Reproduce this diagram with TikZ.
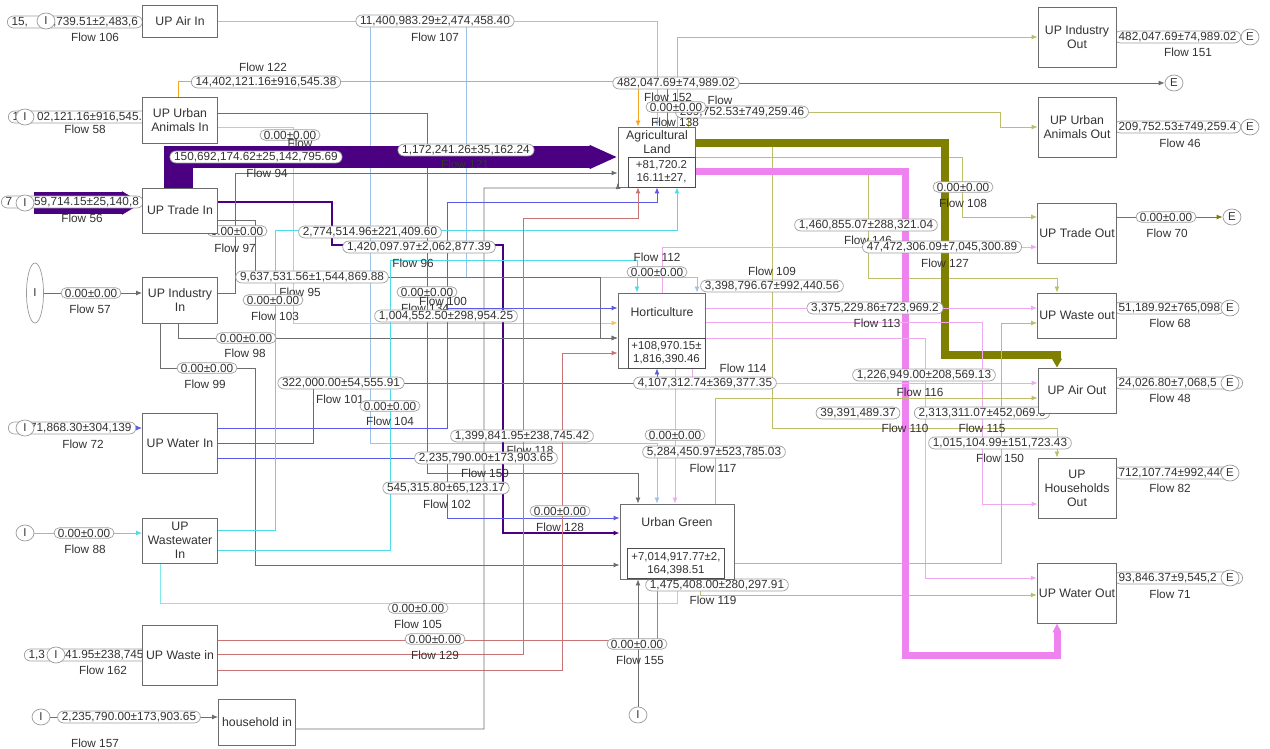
\documentclass[tikz,border=0pt]{standalone}
\usepackage{fontspec}
\setmainfont{Liberation Sans}
\usetikzlibrary{arrows.meta,shapes.geometric,shapes.misc}
\definecolor{airline}{HTML}{9DC3E6}
\definecolor{orangeline}{HTML}{F5A623}
\definecolor{grayline}{HTML}{6E6E6E}
\definecolor{tradeband}{HTML}{4B0082}
\definecolor{waterline}{HTML}{5B5BE8}
\definecolor{wwline}{HTML}{4EDCEB}
\definecolor{wasteline}{HTML}{C87474}
\definecolor{oliveband}{HTML}{7F7F00}
\definecolor{oliveline}{HTML}{BDBD6A}
\definecolor{pinkband}{HTML}{EE82EE}
\definecolor{pinkline}{HTML}{F0A8F0}
\definecolor{textgray}{HTML}{333333}
\pgfdeclarelayer{flows}
\pgfdeclarelayer{values}
\pgfsetlayers{flows,values,main}
\tikzset{
  every node/.style={text=textgray},
  sector/.style={draw=gray!85!black, fill=white, align=center, inner sep=1pt, line width=0.5pt, font=\fontsize{7}{8}\selectfont},
  stock/.style={draw=gray!60!black, fill=white, align=center, inner sep=0.5pt, line width=0.5pt, font=\fontsize{6.5}{7.5}\selectfont},
  flowval/.style={rounded rectangle, draw=gray!75, fill=white, inner xsep=1pt, inner ysep=0.6pt, line width=0.4pt, font=\fontsize{6.7}{7.5}\selectfont},
  flowname/.style={inner sep=0.5pt, font=\fontsize{6.7}{7.5}\selectfont},
  port/.style={ellipse, draw=gray!80, fill=white, minimum width=3.6mm, minimum height=3.2mm, inner sep=0pt, font=\fontsize{6.5}{7.5}\selectfont},
  flowline/.style={line width=0.5pt, ->},
}
\begin{document}
\begin{tikzpicture}[x=0.2mm,y=-0.2mm,>={Latex[length=1.2mm,width=1mm]}]
\useasboundingbox (0,0) rectangle (1270,749);
% input sectors
\node[sector, minimum width=15mm, minimum height=6.4mm] (airIn) at (180,21) {UP Air In};
\node[sector, minimum width=15mm, minimum height=9.2mm] (uaIn) at (180,120) {UP Urban\\Animals In};
\node[sector, minimum width=15mm, minimum height=9mm] (tradeIn) at (180,210.5) {UP Trade In};
\node[sector, minimum width=15mm, minimum height=9.2mm] (industryIn) at (180,300) {UP Industry\\In};
\node[sector, minimum width=15mm, minimum height=12mm] (waterIn) at (180,443) {UP Water In};
\node[sector, minimum width=15mm, minimum height=9mm] (wwIn) at (180,540.5) {UP\\Wastewater\\In};
\node[sector, minimum width=15mm, minimum height=12mm] (wasteIn) at (180,655) {UP Waste in};
\node[sector, minimum width=15.4mm, minimum height=9.2mm] (hhIn) at (257,722) {household in};
% processes
\node[sector, minimum width=15.4mm, minimum height=12mm] (agri) at (656.5,157) {};
\node[sector, draw=none, fill=none] (agriName) at (657,142) {Agricultural\\Land};
\node[stock, minimum width=13.4mm, minimum height=6mm, anchor=south east] (agriStock) at (agri.south east) {+81,720.2\\16.11±27,};
\node[sector, minimum width=17.4mm, minimum height=15mm] (horti) at (661.5,330.5) {};
\node[sector, draw=none, fill=none] (hortiName) at (662,312) {Horticulture};
\node[stock, minimum width=15.4mm, minimum height=6mm, anchor=south east] (hortiStock) at (horti.south east) {+108,970.15±\\1,816,390.46};
\node[sector, minimum width=22.8mm, minimum height=15mm] (ug) at (677,541.5) {};
\node[sector, draw=none, fill=none] (ugName) at (677,522) {Urban Green};
\node[stock, minimum width=19.4mm, minimum height=6mm, anchor=south west] (ugStock) at (627,579) {+7,014,917.77±2,\\164,398.51};
% output sectors
\node[sector, minimum width=15.6mm, minimum height=12mm] (industryOut) at (1077,37) {UP Industry\\Out};
\node[sector, minimum width=15.6mm, minimum height=12mm] (uaOut) at (1077,127) {UP Urban\\Animals Out};
\node[sector, minimum width=15.6mm, minimum height=12mm] (tradeOut) at (1077,233) {UP Trade Out};
\node[sector, minimum width=15.6mm, minimum height=9mm] (wasteOut) at (1077,315.5) {UP Waste out};
\node[sector, minimum width=15.6mm, minimum height=9mm] (airOut) at (1077,390.5) {UP Air Out};
\node[sector, minimum width=15.6mm, minimum height=12mm] (hhOut) at (1077,488) {UP\\Households\\Out};
\node[sector, minimum width=15.6mm, minimum height=12mm] (waterOut) at (1077,593) {UP Water Out};
% import and export
\node[port] (srcAir) at (46,21) {I};
\node[port] (srcUa) at (25,117) {I};
\node[port] (srcTrade) at (25,203) {I};
\node[port, minimum width=3.4mm, minimum height=12mm] (srcIndustry) at (35,293) {I};
\node[port] (srcWater) at (25,428) {I};
\node[port] (srcWw) at (25,533) {I};
\node[port] (srcWaste) at (56,655) {I};
\node[port] (srcHh) at (41,717) {I};
\node[port] (srcUg) at (638,715) {I};
\node[port] (sinkIndustry) at (1250,37) {E};
\node[port] (sinkAgri) at (1174,83) {E};
\node[port] (sinkUa) at (1250,127) {E};
\node[port] (sinkTrade) at (1232,217) {E};
\node[port] (sinkWaste) at (1230,308) {E};
\node[port] (sinkAir) at (1230,383) {E};
\node[port] (sinkHh) at (1230,473) {E};
\node[port] (sinkWater) at (1230,578) {E};

\begin{pgfonlayer}{flows}
\draw[flowline, grayline] (srcAir) -- (srcAir -| airIn.west);
\draw[flowline, grayline] (srcUa) -- (srcUa -| uaIn.west);
\draw[flowline, grayline] (srcIndustry) -- (srcIndustry -| industryIn.west);
\draw[flowline, waterline] (srcWater) -- (srcWater -| waterIn.west);
\draw[flowline, wwline] (srcWw) -- (srcWw -| wwIn.west);
\draw[flowline, wasteline] (srcWaste) -- (srcWaste -| wasteIn.west);
\draw[flowline, grayline] (srcHh) -- (srcHh -| hhIn.west);
\draw[tradeband, line width=4.4mm, -{Triangle[length=4mm,width=0pt 1]}] (srcTrade) -- (srcTrade -| tradeIn.west);
% air
\draw[flowline, airline] (airIn.east) -- (657,21) -- (agri.north -| 657,0);
\draw[flowline, airline] (airIn.east) -- (370,21) -- (370,443) -- (657,443) -- (ug.north -| 657,0);
\draw[flowline, airline] (airIn.east) -- (466,21) -- (466,277) -- (697,277) -- (horti.north -| 697,0);
% urban animals
\draw[flowline, orangeline] (uaIn.north -| 178,0) -- (178,81) -- (638,81) -- (agri.north -| 638,0);
\draw[flowline, orangeline!70] (uaIn.east |- 0,127) -- (293,127) -- (293,323) -- (horti.west |- 0,323);
\draw[flowline, grayline] (uaIn.east |- 0,113) -- (427,113) -- (427,473) -- (638,473) -- (ug.north -| 638,0);
% trade
\draw[tradeband, line width=5.8mm] (tradeIn.north -| 178.5,0) -- (178.5,146);
\draw[tradeband, line width=4.4mm, -{Triangle[length=5.6mm,width=0pt 1]}] (tradeIn.north -| 178.5,0) |- (agri.west |- 0,157);
\draw[flowline, tradeband, line width=0.9pt] (tradeIn.east |- 0,202) -- (332,202) -- (332,245) -- (503,245) -- (503,533) -- (ug.west |- 0,533);
\draw[flowline, grayline] (tradeIn.east |- 0,220) -- (255,220) -- (255,277) -- (600,277) -- (600,338) -- (horti.west |- 0,338);
% industry
\draw[flowline, grayline] (industryIn.east |- 0,293) -- (235,293) -- (235,173) -- (agri.west |- 0,173);
\draw[flowline, grayline] (industryIn.south -| 178,0) -- (178,338) -- (horti.west |- 0,338);
\draw[flowline, grayline] (industryIn.south -| 160,0) -- (160,368) -- (255,368) -- (255,565) -- (ug.west |- 0,565);
% water
\draw[flowline, waterline] (waterIn.east |- 0,428) -- (447,428) -- (447,202) -- (657,202) -- (agri.south -| 657,0);
\draw[flowline, waterline] (waterIn.east |- 0,428) -- (447,428) -- (447,308) -- (horti.west |- 0,308);
\draw[flowline, waterline] (waterIn.east |- 0,443) -- (313,443) -- (313,383) -- (657,383) -- (horti.south -| 657,0);
\draw[flowline, waterline] (waterIn.east |- 0,458) -- (447,458) -- (447,518) -- (ug.west |- 0,518);
% wastewater
\draw[flowline, wwline] (wwIn.east |- 0,530) -- (275,530) -- (275,230) -- (677,230) -- (agri.south -| 677,0);
\draw[flowline, wwline] (wwIn.east |- 0,550) -- (390,550) -- (390,260) -- (637,260) -- (horti.north -| 637,0);
\draw[flowline, wwline!70] (wwIn.south -| 160,0) -- (160,603) -- (677,603) -- (ug.south -| 677,0);
% waste
\draw[flowline, wasteline] (wasteIn.east |- 0,640) -- (657,640) -- (ug.south -| 657,0);
\draw[flowline, wasteline] (wasteIn.east |- 0,654) -- (523,654) -- (523,218) -- (638,218) -- (agri.south -| 638,0);
\draw[flowline, wasteline] (wasteIn.east |- 0,670) -- (562,670) -- (562,353) -- (horti.west |- 0,353);
% households
\draw[flowline, grayline] (hhIn.east |- 0,729) -- (484,729) -- (484,188) -- (618,188) -- (agri.west |- 0,183);
\draw[flowline, grayline] (srcUg) -- (ug.south -| 638,0);
% agricultural land out
\draw[flowline, oliveline] (agri.north -| 677,0) -- (677,37) -- (industryOut.west |- 0,37);
\draw[flowline, grayline] (agri.north -| 667,0) -- (667,83) -- (sinkAgri);
\draw[flowline, oliveline] (agri.north -| 688,0) -- (688,112) -- (1000,112) -- (1000,127) -- (uaOut.west |- 0,127);
\draw[flowline, oliveline] (agri.east |- 0,157) -- (962,157) -- (962,217) -- (tradeOut.west |- 0,217);
\draw[flowline, oliveline] (agri.east |- 0,172) -- (868,172) -- (868,278) -- (1057,278) -- (wasteOut.north -| 1057,0);
\draw[flowline, oliveline] (agri.east |- 0,143) -- (772,143) -- (772,428) -- (1057,428) -- (hhOut.north -| 1057,0);
\draw[oliveband, line width=1.6mm, -{Triangle[length=1.8mm,width=0pt 1.2]}] (agri.east |- 0,143) -- (945,143) -- (945,355) -- (1057,355) -- (airOut.north -| 1057,0);
\draw[pinkband, line width=1.4mm, -{Triangle[length=1.8mm,width=0pt 1.2]}] (agri.east |- 0,172) -- (905,172) -- (905,655) -- (1057,655) -- (waterOut.south -| 1057,0);
% horticulture out
\draw[flowline, pinkline] (horti.north -| 662,0) -- (662,247) -- (tradeOut.west |- 0,247);
\draw[flowline, pinkline] (horti.east |- 0,308) -- (wasteOut.west |- 0,308);
\draw[flowline, pinkline] (horti.east |- 0,322) -- (982,322) -- (982,504) -- (hhOut.west |- 0,504);
\draw[flowline, pinkline] (horti.east |- 0,338) -- (925,338) -- (925,578) -- (waterOut.west |- 0,578);
\draw[flowline, pinkline] (horti.south -| 692,0) -- (692,383) -- (airOut.west |- 0,383);
\draw[flowline, pinkline] (horti.south -| 675,0) -- (ug.north -| 675,0);
% urban green out
\draw[flowline, oliveline] (ug.east |- 0,563) -- (1001,563) -- (1001,323) -- (wasteOut.west |- 0,323);
\draw[flowline, oliveline] (ug.north -| 715,0) -- (715,398) -- (airOut.west |- 0,398);
\draw[flowline, oliveline] (ug.south -| 700,0) -- (700,595) -- (waterOut.west |- 0,595);
% exports
\draw[flowline, grayline] (industryOut.east |- sinkIndustry) -- (sinkIndustry);
\draw[flowline, grayline] (uaOut.east |- sinkUa) -- (sinkUa);
\draw[flowline, oliveband] (tradeOut.east |- sinkTrade) -- (sinkTrade);
\draw[flowline, grayline] (wasteOut.east |- sinkWaste) -- (sinkWaste);
\draw[flowline, grayline] (airOut.east |- sinkAir) -- (sinkAir);
\draw[flowline, grayline] (hhOut.east |- sinkHh) -- (sinkHh);
\draw[flowline, grayline] (waterOut.east |- sinkWater) -- (sinkWater);
\end{pgfonlayer}

\begin{pgfonlayer}{values}
\node[flowval, anchor=west] (v106) at (7,22) {15,\hspace{5mm},739.51±2,483,6};
\node[flowname] (n106) at (95,37) {Flow 106};
\node[flowval] (v107) at (435,21) {11,400,983.29±2,474,458.40};
\node[flowname] (n107) at (435,37) {Flow 107};
\node[flowname] (n122) at (263,67) {Flow 122};
\node[flowval] (v122) at (266,82) {14,402,121.16±916,545.38};
\node[flowval] (v152) at (676,83) {482,047.69±74,989.02};
\node[flowname] (n152) at (668,97) {Flow 152};
\node[flowname] (nFlowA) at (720,100) {Flow};
\node[flowval] (v139) at (742,112) {209,752.53±749,259.46};
\node[flowval] (v138) at (676,107) {0.00±0.00};
\node[flowname] (n138) at (675,122) {Flow 138};
\node[flowval, anchor=west] (v58) at (8,117) {1\hspace{3.6mm}02,121.16±916,545.38};
\node[flowname] (n58) at (85,129) {Flow 58};
\node[flowval] (vUa) at (290,135) {0.00±0.00};
\node[flowname] (nFlowB) at (300,143) {Flow};
\node[flowval] (v94) at (256,157) {150,692,174.62±25,142,795.69};
\node[flowname] (n94) at (267,173) {Flow 94};
\node[flowval] (v121) at (466,150) {1,172,241.26±35,162.24};
\node[flowname] (n121) at (465,164) {Flow 121};
\node[flowval, anchor=west] (v56) at (1,202) {7\hspace{4.4mm}59,714.15±25,140,8};
\node[flowname] (n56) at (82,218) {Flow 56};
\node[flowval] (v97) at (237,231) {0.00±0.00};
\node[flowname] (n97) at (235,248) {Flow 97};
\node[flowval] (v2774) at (370,232) {2,774,514.96±221,409.60};
\node[flowval] (v96) at (419,247) {1,420,097.97±2,062,877.39};
\node[flowname] (n96) at (413,263) {Flow 96};
\node[flowval] (v95) at (312,277) {9,637,531.56±1,544,869.88};
\node[flowname] (n95) at (300,292) {Flow 95};
\node[flowval] (v103) at (273,300) {0.00±0.00};
\node[flowname] (n103) at (275,316) {Flow 103};
\node[flowval] (v100) at (427,292) {0.00±0.00};
\node[flowname] (n100) at (443,301) {Flow 100};
\node[flowname] (n134) at (425,308) {Flow 134};
\node[flowval] (v1004) at (446,316) {1,004,552.50±298,954.25};
\node[flowval] (v57) at (91,293) {0.00±0.00};
\node[flowname] (n57) at (90,309) {Flow 57};
\node[flowval] (v98) at (246,338) {0.00±0.00};
\node[flowname] (n98) at (245,353) {Flow 98};
\node[flowval] (v99) at (207,368) {0.00±0.00};
\node[flowname] (n99) at (205,384) {Flow 99};
\node[flowval] (v101) at (341,383) {322,000.00±54,555.91};
\node[flowname] (n101) at (340,399) {Flow 101};
\node[flowval] (v104) at (390,406) {0.00±0.00};
\node[flowname] (n104) at (390,421) {Flow 104};
\node[flowval, anchor=west] (v72) at (8,428) {\hspace{3.5mm}71,868.30±304,139};
\node[flowname] (n72) at (83,444) {Flow 72};
\node[flowval] (v118) at (522,436) {1,399,841.95±238,745.42};
\node[flowname] (n118) at (530,450) {Flow 118};
\node[flowval] (v159) at (486,458) {2,235,790.00±173,903.65};
\node[flowname] (n159) at (485,473) {Flow 159};
\node[flowval] (v102) at (446,488) {545,315.80±65,123.17};
\node[flowname] (n102) at (447,504) {Flow 102};
\node[flowval] (v128) at (560,511) {0.00±0.00};
\node[flowname] (n128) at (560,527) {Flow 128};
\node[flowval] (v88) at (84,533) {0.00±0.00};
\node[flowname] (n88) at (85,549) {Flow 88};
\node[flowval] (v105) at (418,608) {0.00±0.00};
\node[flowname] (n105) at (418,624) {Flow 105};
\node[flowval] (v129) at (435,639) {0.00±0.00};
\node[flowname] (n129) at (435,655) {Flow 129};
\node[flowval, anchor=west] (v162) at (24,655) {1,3\hspace{4mm}41.95±238,745.42};
\node[flowname] (n162) at (103,670) {Flow 162};
\node[flowval] (v157) at (129,717) {2,235,790.00±173,903.65};
\node[flowname] (n157) at (95,743) {Flow 157};
\node[flowval] (v155) at (637,644) {0.00±0.00};
\node[flowname] (n155) at (640,660) {Flow 155};
\node[flowval] (v119) at (717,585) {1,475,408.00±280,297.91};
\node[flowname] (n119) at (713,600) {Flow 119};
\node[flowval] (v117a) at (675,435) {0.00±0.00};
\node[flowval] (v117) at (714,452) {5,284,450.97±523,785.03};
\node[flowname] (n117) at (713,468) {Flow 117};
\node[flowval] (v114) at (705,383) {4,107,312.74±369,377.35};
\node[flowname] (n114) at (743,368) {Flow 114};
\node[flowname] (n112) at (657,257) {Flow 112};
\node[flowval] (v112) at (657,272) {0.00±0.00};
\node[flowname] (n109) at (772,271) {Flow 109};
\node[flowval] (v109) at (772,286) {3,398,796.67±992,440.56};
\node[flowval] (v113) at (875,308) {3,375,229.86±723,969.2};
\node[flowname] (n113) at (877,323) {Flow 113};
\node[flowval] (v116) at (924,375) {1,226,949.00±208,569.13};
\node[flowname] (n116) at (920,392) {Flow 116};
\node[flowval] (v110) at (858,413) {39,391,489.37};
\node[flowval] (v115) at (982,413) {2,313,311.07±452,069.6};
\node[flowname] (n110) at (905,428) {Flow 110};
\node[flowname] (n115) at (982,428) {Flow 115};
\node[flowval] (v150) at (1000,443) {1,015,104.99±151,723.43};
\node[flowname] (n150) at (1000,458) {Flow 150};
\node[flowval] (v146) at (866,225) {1,460,855.07±288,321.04};
\node[flowname] (n146) at (868,240) {Flow 146};
\node[flowval] (v127) at (942,247) {47,472,306.09±7,045,300.89};
\node[flowname] (n127) at (945,263) {Flow 127};
\node[flowval] (v108) at (963,187) {0.00±0.00};
\node[flowname] (n108) at (963,203) {Flow 108};
\node[flowval, anchor=west] (v151) at (1114,37) {482,047.69±74,989.02};
\node[flowname] (n151) at (1188,52) {Flow 151};
\node[flowval, anchor=west] (v46) at (1114,127) {209,752.53±749,259.4\hspace{3mm}};
\node[flowname] (n46) at (1180,143) {Flow 46};
\node[flowval] (v70) at (1166,217) {0.00±0.00};
\node[flowname] (n70) at (1167,233) {Flow 70};
\node[flowval, anchor=west] (v68) at (1114,308) {51,189.92±765,098\hspace{4mm}};
\node[flowname] (n68) at (1170,323) {Flow 68};
\node[flowval, anchor=west] (v48) at (1114,383) {24,026.80±7,068,5\hspace{3mm}8};
\node[flowname] (n48) at (1170,398) {Flow 48};
\node[flowval, anchor=west] (v82) at (1114,473) {712,107.74±992,440\hspace{3mm}};
\node[flowname] (n82) at (1170,488) {Flow 82};
\node[flowval, anchor=west] (v71) at (1114,578) {93,846.37±9,545,2\hspace{3mm}9};
\node[flowname] (n71) at (1170,594) {Flow 71};
\end{pgfonlayer}
\end{tikzpicture}
\end{document}
